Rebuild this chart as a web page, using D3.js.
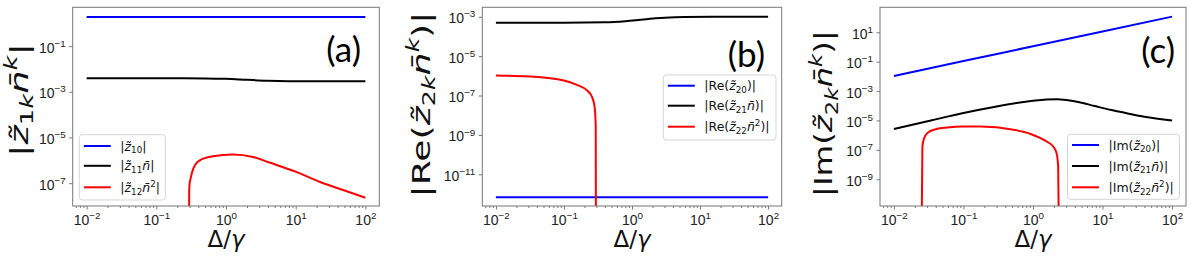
<!DOCTYPE html>
<html><head><meta charset="utf-8">
<script src="https://cdn.jsdelivr.net/npm/d3@7"></script>
<style>body{margin:0;background:#fff;} svg{display:block}</style>
</head><body>
<svg id="chart" width="1196" height="257"></svg>
<script>
// ---------- data ----------
const xTickExps = [-2, -1, 0, 1, 2];
const yTickExpsA = [-1, -3, -5, -7];
const yTickExpsB = [-3, -5, -7, -9, -11];
const yTickExpsC = [1, -1, -3, -5, -7, -9];
const panelTags = ["(a)", "(b)", "(c)"];

// panel (a)
const xA_blue = [0.01, 1, 100];
const yA_blue = [1.9, 1.9, 1.9];
const xA_black = [0.01, 0.1, 0.5, 1, 2, 4, 8, 20, 100];
const yA_black = [3.9e-3, 3.9e-3, 3.85e-3, 3.7e-3, 3.35e-3, 3.05e-3, 2.93e-3, 2.9e-3, 2.9e-3];
const xA_red = [0.2950, 0.2962, 0.300, 0.309, 0.34, 0.42, 0.65, 1.26, 2.45, 4.2, 10, 22, 48, 100];
const yA_red = [1e-10, 4e-8, 9e-8, 1.5e-7, 4.4e-7, 1.0e-6, 1.5e-6, 1.8e-6, 1.4e-6, 8e-7, 3.2e-7, 1.15e-7, 5e-8, 2.3e-8];

// panel (b)
const xB_blue = [0.01, 1, 100];
const yB_blue = [6.8e-13, 6.8e-13, 6.8e-13];
const xB_black = [0.01, 0.1, 0.4, 0.8, 1.5, 3, 6, 15, 100];
const yB_black = [5.0e-4, 5.0e-4, 5.2e-4, 5.9e-4, 7.3e-4, 8.8e-4, 9.7e-4, 1.0e-3, 1.0e-3];
const xB_red = [0.01, 0.0316, 0.1, 0.155, 0.219, 0.257, 0.282, 0.293, 0.2955];
const yB_red = [1.05e-6, 9.3e-7, 5.8e-7, 3.5e-7, 1.8e-7, 8.9e-8, 2.75e-8, 3e-9, 1e-15];

// panel (c)
const xC_blue = [0.01, 0.1, 1, 10, 100];
const yC_blue = [0.0107, 0.11, 1.12, 11.4, 116];
const xC_black = [0.01, 0.034, 0.1, 0.3, 0.65, 1.0, 1.55, 2.2, 3.0, 4.5, 7.8, 13.5, 23, 40, 100];
const yC_black = [2.6e-6, 1e-5, 3.2e-5, 8.9e-5, 1.66e-4, 2.2e-4, 2.7e-4, 2.8e-4, 2.5e-4, 1.8e-4, 9.5e-5, 5.1e-5, 3.0e-5, 1.8e-5, 1e-5];
const xC_red = [0.0251, 0.0257, 0.0272, 0.0303, 0.0377, 0.058, 0.101, 0.175, 0.524, 0.906, 1.57, 1.95, 2.18, 2.30, 2.35];
const yC_red = [1e-12, 1.7e-7, 6.3e-7, 1.38e-6, 2.34e-6, 3.3e-6, 3.9e-6, 3.9e-6, 2.34e-6, 1.26e-6, 3.7e-7, 1.7e-7, 6e-8, 7.4e-9, 1e-12];

// legend labels (mathtext-like parts)
const legendA = [
  [["|","r"],["z\u0303","i"],["10","sub"],["|","r"]],
  [["|","r"],["z\u0303","i"],["11","sub"],["n\u0304","i"],["|","r"]],
  [["|","r"],["z\u0303","i"],["12","sub"],["n\u0304","i"],["2","sup"],["|","r"]]
];
const legendB = [
  [["|Re(","r"],["z\u0303","i"],["20","sub"],[")|","r"]],
  [["|Re(","r"],["z\u0303","i"],["21","sub"],["n\u0304","i"],[")|","r"]],
  [["|Re(","r"],["z\u0303","i"],["22","sub"],["n\u0304","i"],["2","sup"],[")|","r"]]
];
const legendC = [
  [["|Im(","r"],["z\u0303","i"],["20","sub"],[")|","r"]],
  [["|Im(","r"],["z\u0303","i"],["21","sub"],["n\u0304","i"],[")|","r"]],
  [["|Im(","r"],["z\u0303","i"],["22","sub"],["n\u0304","i"],["2","sup"],[")|","r"]]
];
const yLabelA = [["|","r"],["z\u0303","i"],["1","sub"],["k","subi"],["n\u0304","i"],["k","supi"],["|","r"]];
const yLabelB = [["|Re(","r"],["z\u0303","i"],["2","sub"],["k","subi"],["n\u0304","i"],["k","supi"],[")|","r"]];
const yLabelC = [["|Im(","r"],["z\u0303","i"],["2","sub"],["k","subi"],["n\u0304","i"],["k","supi"],[")|","r"]];
const xLabel = [["\u0394/","r"],["\u03b3","i"]];
const seriesColors = ["#0000ff", "#000000", "#ff0000"];

// ---------- helpers ----------
const FONT = "'DejaVu Sans', sans-serif";
function mathText(textSel, parts, F) {
  let off = 0;
  parts.forEach(([s, k]) => {
    let size = F, target = 0, italic = (k === 'i');
    if (k === 'sub' || k === 'subi') { size = 0.7 * F; target = 0.22 * F; italic = (k === 'subi'); }
    if (k === 'sup' || k === 'supi') { size = 0.7 * F; target = -0.42 * F; italic = (k === 'supi'); }
    const t = textSel.append('tspan').text(s).attr('font-size', size);
    if (target - off !== 0) t.attr('dy', target - off);
    if (italic) t.attr('font-style', 'italic');
    off = target;
  });
}

const svg = d3.select('#chart').style('font-family', FONT);
const TOP = 7.3, BOTTOM = 206;

const panels = [
  { left: 72.7, right: 379.3, yLo: -8, yHi: 0.70, yTicks: yTickExpsA,
    series: [[xA_blue, yA_blue], [xA_black, yA_black], [xA_red, yA_red]],
    legend: legendA, leg: { x0: 79.3, x1: 165.3, y0: 134.7, y1: 200, rows: [146, 165.8, 187.3] },
    yLabel: yLabelA, yLabelX: 19, yLabelY: 100, yLabelLen: 114, tagX: 361, tagY: 62 },
  { left: 482.3, right: 781.7, yLo: -12.61, yHi: -2.52, yTicks: yTickExpsB,
    series: [[xB_blue, yB_blue], [xB_black, yB_black], [xB_red, yB_red]],
    legend: legendB, leg: { x0: 663.3, x1: 776, y0: 75, y1: 140, rows: [85.7, 105.7, 126.7] },
    yLabel: yLabelB, yLabelX: 421, yLabelY: 104.5, yLabelLen: 186, tagX: 765, tagY: 67 },
  { left: 880, right: 1186, yLo: -10.82, yHi: 2.70, yTicks: yTickExpsC,
    series: [[xC_blue, yC_blue], [xC_black, yC_black], [xC_red, yC_red]],
    legend: legendC, leg: { x0: 1067.5, x1: 1179.5, y0: 134.3, y1: 199.3, rows: [145, 166, 187.3] },
    yLabel: yLabelC, yLabelX: 823.5, yLabelY: 113.5, yLabelLen: 167, tagX: 1175, tagY: 63 }
];

panels.forEach((p, pi) => {
  const x = d3.scaleLog().domain([Math.pow(10, -2.2), Math.pow(10, 2.2)]).range([p.left, p.right]);
  const y = d3.scaleLog().domain([Math.pow(10, p.yLo), Math.pow(10, p.yHi)]).range([BOTTOM, TOP]);
  const g = svg.append('g');

  const clipId = 'clip' + pi;
  svg.append('clipPath').attr('id', clipId).append('rect')
    .attr('x', p.left).attr('y', TOP).attr('width', p.right - p.left).attr('height', BOTTOM - TOP);

  // data lines
  const line = d3.line().x(d => x(d[0])).y(d => y(d[1])).curve(d3.curveMonotoneX);
  p.series.forEach(([xs, ys], si) => {
    const pts = xs.map((v, i) => [v, ys[i]]);
    g.append('path').attr('d', line(pts)).attr('clip-path', `url(#${clipId})`)
      .attr('fill', 'none').attr('stroke', seriesColors[si]).attr('stroke-width', 2);
  });

  // x axis
  const majors = xTickExps.map(e => Math.pow(10, e));
  const minors = [];
  for (let e = -3; e <= 2; e++) for (let m = 2; m <= 9; m++) {
    const v = m * Math.pow(10, e);
    if (v > x.domain()[0] && v < x.domain()[1]) minors.push(v);
  }
  const gxMin = g.append('g').attr('transform', `translate(0,${BOTTOM})`)
    .call(d3.axisBottom(x).tickValues(minors).tickSize(2).tickFormat(''));
  const gx = g.append('g').attr('transform', `translate(0,${BOTTOM})`)
    .call(d3.axisBottom(x).tickValues(majors).tickSize(3.5).tickFormat(''));
  [gxMin, gx].forEach(a => { a.select('.domain').remove(); a.selectAll('line').attr('stroke', '#555').attr('stroke-width', 0.8); });
  gx.selectAll('.tick text').each(function (d) {
    const t = d3.select(this).attr('y', 19).attr('dy', null).attr('fill', '#222').attr('font-size', 14);
    t.text('');
    const e = Math.round(Math.log10(d));
    mathText(t, [["10", "r"], [String(e).replace('-', '\u2212'), "sup"]], 14);
  });

  // y axis
  const yMaj = p.yTicks.map(e => Math.pow(10, e));
  const gy = g.append('g').attr('transform', `translate(${p.left},0)`)
    .call(d3.axisLeft(y).tickValues(yMaj).tickSize(3.5).tickFormat(''));
  gy.select('.domain').remove();
  gy.selectAll('line').attr('stroke', '#555').attr('stroke-width', 0.8);
  gy.selectAll('.tick text').each(function (d) {
    const t = d3.select(this).attr('x', -7).attr('dy', 6).attr('fill', '#222').attr('font-size', 14).attr('text-anchor', 'end');
    t.text('');
    const e = Math.round(Math.log10(d));
    mathText(t, [["10", "r"], [String(e).replace('-', '\u2212'), "sup"]], 14);
  });

  // frame
  g.append('rect').attr('x', p.left).attr('y', TOP).attr('width', p.right - p.left).attr('height', BOTTOM - TOP)
    .attr('fill', 'none').attr('stroke', '#777').attr('stroke-width', 1);

  // x label
  const xl = g.append('text').attr('x', (p.left + p.right) / 2).attr('y', 247)
    .attr('text-anchor', 'middle').attr('fill', '#111').attr('font-size', 23);
  mathText(xl, xLabel, 23);

  // y label (rotated, fitted to the reference length)
  const ylg = g.append('g');
  const yl = ylg.append('text').attr('fill', '#111').attr('font-size', 25);
  mathText(yl, p.yLabel, 25);
  const bb = yl.node().getBBox();
  const s = p.yLabelLen / bb.width;
  ylg.attr('transform', `translate(${p.yLabelX},${p.yLabelY}) rotate(-90) scale(${s},1) translate(${-(bb.x + bb.width / 2)},${-(bb.y + bb.height / 2)})`);

  // legend
  const L = p.leg;
  g.append('rect').attr('x', L.x0).attr('y', L.y0).attr('width', L.x1 - L.x0).attr('height', L.y1 - L.y0)
    .attr('rx', 3).attr('fill', 'white').attr('fill-opacity', 0.8).attr('stroke', '#d5d5d5').attr('stroke-width', 1);
  p.legend.forEach((parts, i) => {
    const ly = L.rows[i];
    g.append('line').attr('x1', L.x0 + 4.5).attr('x2', L.x0 + 31.5).attr('y1', ly).attr('y2', ly)
      .attr('stroke', seriesColors[i]).attr('stroke-width', 2);
    const t = g.append('text').attr('x', L.x0 + 41).attr('y', ly + 4.5).attr('fill', '#111').attr('font-size', 12.5);
    mathText(t, parts, 12.5);
  });

  // panel tag
  g.append('text').attr('x', p.tagX).attr('y', p.tagY).attr('text-anchor', 'end')
    .attr('font-family', "Lato, 'Open Sans', sans-serif").attr('font-size', 35).attr('fill', '#000')
    .text(panelTags[pi]);
});
</script>
</body></html>
